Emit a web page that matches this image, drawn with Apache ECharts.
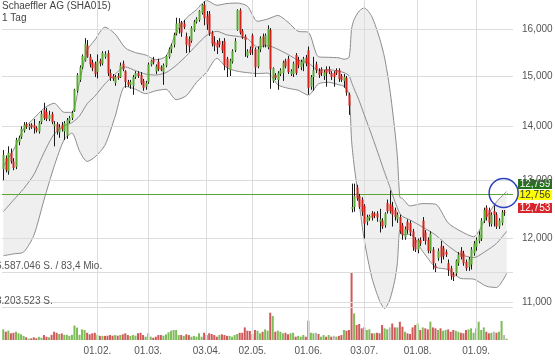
<!DOCTYPE html>
<html>
<head>
<meta charset="utf-8">
<script src="https://cdn.jsdelivr.net/npm/echarts@6/dist/echarts.min.js"></script>
<style>
  html, body { margin: 0; padding: 0; background: #fff; }
  #chart { width: 555px; height: 361px; }
</style>
</head>
<body>
<div id="chart"></div>
<script>
// Schaeffler AG, Tageskerzen mit Bollinger-Bändern und Umsatz
const title = 'Schaeffler AG (SHA015)';
const subtitle = '1 Tag';

// Handelstage: erster Tag, Anzahl (inkl. 2 leere Tage rechts), Feiertage
const firstDay = '2016-12-09';
const dayCount = 201;
const holidays = ['2016-12-26', '2017-04-14', '2017-04-17', '2017-05-01'];
const tickLabels = ['01.02.', '01.03.', '03.04.', '02.05.', '01.06.', '03.07.', '01.08.', '01.09.'];

const opens = [
  13.20, 13.40, 13.16, 13.50, 13.34, 13.24, 13.70, 13.80, 13.92, 14.04, 13.98, 14.03, 14.02, 13.97, 13.90,
  14.08, 14.32, 14.28, 14.14, 14.24, 14.00, 14.04, 13.88, 14.02, 13.90, 13.82, 14.10, 14.16, 14.30, 14.70,
  14.92, 15.18, 15.32, 15.64, 15.40, 15.28, 15.26, 15.08, 15.32, 15.26, 15.40, 15.48, 15.06, 15.00, 14.86,
  15.00, 14.98, 15.26, 15.10, 14.88, 14.82, 14.80, 14.98, 15.06, 15.02, 14.90, 14.78, 14.88, 15.24, 15.34,
  15.10, 15.30, 15.18, 15.08, 15.22, 15.40, 15.56, 15.66, 15.90, 16.02, 16.14, 16.12, 15.84, 15.78, 15.74,
  15.98, 16.16, 16.20, 16.36, 16.54, 16.28, 16.34, 15.92, 15.72, 15.70, 15.74, 15.66, 15.74, 15.36, 15.12,
  15.30, 15.54, 15.98, 16.42, 15.96, 15.84, 15.42, 15.56, 15.86, 15.56, 15.20, 15.56, 15.84, 15.66, 15.60,
  15.98, 14.90, 15.02, 14.92, 15.04, 15.06, 15.32, 15.36, 15.04, 15.04, 15.44, 15.34, 15.18, 15.26, 15.38,
  15.54, 14.78, 14.98, 15.24, 15.10, 15.14, 15.00, 15.14, 15.14, 15.06, 15.06, 15.12, 15.12, 15.00, 14.90,
  14.96, 14.62, 12.50, 12.53, 12.87, 12.72, 12.66, 12.55, 12.28, 12.34, 12.43, 12.42, 12.42, 12.28, 12.30,
  12.22, 12.60, 12.58, 12.54, 12.48, 12.32, 12.36, 12.22, 12.02, 12.28, 12.26, 12.12, 11.98, 11.82, 11.98,
  12.30, 12.10, 11.98, 11.80, 11.82, 11.56, 11.68, 11.88, 11.84, 11.78, 11.60, 11.52, 11.42, 11.44, 11.60,
  11.80, 11.76, 11.62, 11.54, 11.58, 11.76, 11.86, 11.96, 12.00, 12.30, 12.52, 12.48, 12.24, 12.46, 12.40,
  12.20, 12.26, 12.45, 12.745
];
const highs = [
  13.55, 13.45, 13.62, 13.58, 13.40, 13.78, 13.82, 14.00, 14.08, 14.08, 14.05, 14.06, 14.14, 14.00, 14.10,
  14.30, 14.46, 14.36, 14.30, 14.28, 14.10, 14.08, 14.04, 14.08, 14.10, 14.16, 14.20, 14.30, 14.74, 15.06,
  15.22, 15.45, 15.80, 15.76, 15.46, 15.34, 15.30, 15.45, 15.36, 15.52, 15.52, 15.54, 15.14, 15.04, 15.02,
  15.06, 15.28, 15.32, 15.12, 14.92, 14.92, 15.02, 15.10, 15.10, 15.08, 14.94, 14.90, 15.28, 15.34, 15.40,
  15.24, 15.36, 15.22, 15.26, 15.44, 15.60, 15.68, 15.92, 16.25, 16.24, 16.18, 16.20, 15.92, 15.84, 16.06,
  16.20, 16.26, 16.42, 16.56, 16.62, 16.40, 16.40, 15.96, 15.84, 15.76, 15.80, 15.74, 15.80, 15.40, 15.36,
  15.56, 15.80, 16.44, 16.46, 16.00, 15.88, 15.56, 15.62, 15.90, 15.60, 15.62, 15.84, 15.90, 15.90, 16.08,
  16.02, 15.18, 15.06, 15.10, 15.16, 15.32, 15.36, 15.42, 15.14, 15.30, 15.48, 15.40, 15.34, 15.40, 15.44,
  15.62, 15.02, 15.40, 15.30, 15.16, 15.18, 15.12, 15.20, 15.20, 15.10, 15.10, 15.16, 15.16, 15.04, 15.04,
  15.00, 14.66, 12.94, 12.94, 12.92, 12.76, 12.70, 12.58, 12.40, 12.40, 12.46, 12.45, 12.46, 12.50, 12.34,
  12.44, 12.66, 12.82, 12.62, 12.52, 12.44, 12.40, 12.26, 12.20, 12.32, 12.30, 12.16, 12.02, 12.00, 12.02,
  12.36, 12.14, 12.02, 12.12, 11.86, 11.60, 11.84, 11.96, 11.88, 11.82, 11.66, 11.56, 11.46, 11.66, 11.78,
  11.86, 11.80, 11.66, 11.70, 11.86, 11.96, 12.02, 12.12, 12.34, 12.52, 12.56, 12.52, 12.44, 12.56, 12.44,
  12.34, 12.48, 12.48, 12.762
];
const lows = [
  13.00, 13.14, 13.10, 13.30, 13.18, 13.20, 13.64, 13.76, 13.88, 13.95, 13.93, 13.95, 13.86, 13.88, 13.86,
  14.04, 14.12, 14.10, 14.10, 14.04, 13.62, 13.84, 13.78, 13.90, 13.74, 13.76, 14.06, 14.12, 14.28, 14.66,
  14.88, 15.15, 15.30, 15.38, 15.18, 15.10, 14.98, 14.95, 15.20, 15.22, 15.36, 15.00, 14.90, 14.90, 14.80,
  14.92, 14.96, 15.10, 14.76, 14.78, 14.74, 14.62, 14.94, 14.96, 14.82, 14.70, 14.72, 14.84, 15.20, 15.24,
  15.04, 15.10, 15.10, 14.82, 15.18, 15.36, 15.48, 15.60, 15.86, 15.90, 15.83, 16.00, 15.48, 15.50, 15.70,
  15.94, 16.12, 16.16, 16.32, 16.08, 15.98, 15.85, 15.62, 15.52, 15.46, 15.60, 15.48, 15.12, 14.98, 15.00,
  15.26, 15.50, 15.96, 15.88, 15.78, 15.40, 15.38, 15.44, 15.44, 14.98, 15.16, 15.50, 15.60, 15.60, 15.56,
  14.74, 14.86, 14.92, 14.72, 15.00, 14.90, 15.16, 15.04, 15.00, 14.98, 15.02, 15.16, 15.12, 15.10, 15.20,
  14.62, 14.72, 14.70, 15.06, 14.96, 15.00, 14.92, 14.78, 15.04, 14.92, 14.78, 15.02, 14.88, 14.88, 14.76,
  14.60, 14.22, 12.44, 12.45, 12.64, 12.50, 12.38, 12.00, 12.22, 12.30, 12.30, 12.34, 12.28, 12.10, 12.16,
  12.18, 12.42, 12.42, 12.20, 12.30, 12.26, 12.08, 11.98, 11.98, 12.08, 12.04, 11.80, 11.78, 11.76, 11.88,
  11.96, 11.90, 11.76, 11.76, 11.50, 11.46, 11.64, 11.60, 11.66, 11.70, 11.40, 11.34, 11.32, 11.40, 11.56,
  11.66, 11.56, 11.48, 11.48, 11.50, 11.72, 11.80, 11.92, 11.96, 12.26, 12.30, 12.20, 12.20, 12.20, 12.16,
  12.16, 12.22, 12.38, 12.74
];
const closes = [
  13.46, 13.18, 13.50, 13.34, 13.22, 13.74, 13.78, 13.95, 14.03, 13.99, 14.01, 13.98, 13.97, 13.92, 14.06,
  14.24, 14.16, 14.14, 14.22, 14.08, 14.04, 13.90, 13.98, 13.94, 14.06, 14.12, 14.16, 14.26, 14.72, 15.02,
  15.18, 15.42, 15.68, 15.40, 15.24, 15.16, 15.04, 15.30, 15.26, 15.48, 15.46, 15.06, 14.96, 14.94, 14.98,
  14.96, 15.22, 15.14, 14.88, 14.82, 14.88, 14.98, 15.06, 15.00, 14.86, 14.76, 14.86, 15.24, 15.32, 15.28,
  15.20, 15.14, 15.12, 15.22, 15.42, 15.56, 15.64, 15.87, 16.12, 16.13, 15.92, 16.04, 15.66, 15.62, 16.02,
  16.16, 16.22, 16.40, 16.54, 16.24, 16.10, 15.90, 15.68, 15.64, 15.60, 15.66, 15.54, 15.22, 15.18, 15.32,
  15.52, 15.74, 16.42, 15.92, 15.82, 15.76, 15.52, 15.48, 15.58, 15.18, 15.56, 15.80, 15.64, 15.86, 16.00,
  15.14, 15.16, 14.96, 15.06, 15.12, 15.28, 15.20, 15.08, 15.10, 15.26, 15.06, 15.22, 15.30, 15.36, 15.26,
  14.76, 14.98, 15.12, 15.12, 15.02, 15.06, 15.08, 15.06, 15.08, 14.98, 14.98, 15.06, 14.94, 14.92, 14.98,
  14.66, 14.40, 12.53, 12.72, 12.68, 12.53, 12.45, 12.25, 12.36, 12.38, 12.35, 12.38, 12.35, 12.32, 12.20,
  12.42, 12.46, 12.46, 12.40, 12.36, 12.40, 12.12, 12.06, 12.16, 12.14, 12.10, 11.86, 11.82, 11.97, 11.92,
  12.02, 11.96, 11.80, 12.08, 11.60, 11.52, 11.80, 11.70, 11.72, 11.74, 11.49, 11.40, 11.38, 11.64, 11.74,
  11.70, 11.60, 11.52, 11.66, 11.82, 11.92, 11.98, 12.06, 12.30, 12.48, 12.36, 12.26, 12.40, 12.40, 12.20,
  12.30, 12.44, 12.44, 12.756
];
// Umsatz in Mio. Stück
const volumes = [
  1.03, 0.80, 0.90, 0.65, 0.70, 0.80, 0.65, 0.55, 0.40, 0.26, 0.13, 0.16, 0.26, 0.16, 0.30,
  0.22, 0.48, 0.32, 0.26, 0.50, 0.80, 0.70, 0.58, 0.64, 0.50, 0.50, 0.40, 0.50, 1.40, 1.20,
  0.50, 1.03, 0.97, 0.70, 0.55, 0.65, 0.70, 0.50, 0.40, 0.40, 0.40, 0.42, 0.48, 0.42, 0.48,
  0.42, 0.48, 0.55, 0.65, 0.48, 0.40, 0.48, 0.42, 0.65, 0.70, 0.48, 0.32, 0.65, 0.32, 0.22,
  0.32, 0.48, 0.48, 0.42, 0.55, 0.75, 0.90, 0.97, 0.97, 0.48, 0.48, 0.40, 0.55, 0.48, 0.32,
  0.40, 0.32, 0.65, 0.32, 0.70, 0.48, 0.65, 0.58, 0.48, 0.32, 0.48, 0.55, 0.48, 0.40, 0.40,
  0.32, 0.48, 0.58, 0.70, 0.70, 1.22, 0.90, 0.87, 0.58, 0.97, 0.90, 0.65, 0.80, 1.03, 0.90,
  2.64, 2.32, 0.80, 0.90, 0.80, 0.65, 0.70, 0.55, 0.65, 0.70, 0.32, 0.40, 0.32, 0.48, 0.32,
  1.87, 0.70, 0.65, 0.70, 0.58, 0.32, 0.48, 0.32, 0.48, 0.32, 0.40, 0.32, 0.40, 0.48, 0.97,
  0.90, 0.97, 6.587046, 2.58, 1.45, 1.55, 1.13, 1.22, 0.97, 1.03, 0.65, 0.65, 0.70, 0.65, 1.45,
  1.13, 1.03, 1.22, 1.60, 1.22, 1.22, 1.77, 1.29, 0.80, 0.65, 0.58, 1.22, 1.45, 1.60, 0.97,
  1.22, 1.13, 1.03, 1.77, 1.22, 1.13, 0.97, 1.13, 0.90, 0.97, 1.03, 0.80, 0.97, 0.90, 0.80,
  0.70, 0.65, 0.97, 1.03, 1.13, 0.70, 1.13, 1.77, 0.97, 1.22, 0.80, 0.65, 0.70, 0.80, 0.70,
  0.80, 1.84, 0.48, 0.12
];

const bandIdx = [0, 4, 8, 12, 16, 20, 24, 27, 30, 33, 36, 40, 44, 48, 52, 56, 60, 64, 68, 72,
  76, 80, 84, 88, 92, 96, 100, 104, 108, 112, 116, 120, 124, 128, 132, 134, 136, 137, 138, 140,
  142, 145, 148, 150, 152, 154, 155, 156, 157, 160, 165, 170, 175, 180, 185, 190, 194, 198];
const bandUpper = [13.25, 13.55, 13.95, 14.15, 14.35, 14.45, 14.27, 14.27, 14.87, 15.54,
  15.76, 16.04, 15.89, 15.59, 15.49, 15.44, 15.34, 15.41, 15.92, 16.24,
  16.43, 16.64, 16.53, 16.57, 16.58, 16.51, 16.17, 16.22, 16.30, 16.15,
  15.95, 15.93, 15.40, 15.39, 15.38, 15.35, 15.39, 16.00, 16.21, 16.40,
  16.47, 16.27, 15.80, 15.38, 14.75, 13.93, 13.44, 12.70, 12.68, 12.55,
  12.59, 12.58, 12.26, 12.12, 12.03, 12.36, 12.62, 12.80];
const bandMid = [12.45, 12.65, 12.85, 13.10, 13.50, 13.85, 14.01, 14.07, 14.20, 14.44,
  14.59, 14.84, 15.04, 15.19, 15.11, 15.04, 15.02, 15.07, 15.22, 15.42,
  15.65, 15.86, 15.95, 15.87, 15.84, 15.79, 15.61, 15.64, 15.56, 15.45,
  15.33, 15.27, 15.12, 15.13, 15.10, 15.07, 15.01, 14.87, 14.74, 14.50,
  14.22, 13.82, 13.41, 13.14, 12.89, 12.63, 12.52, 12.42, 12.37, 12.31,
  12.19, 12.06, 11.88, 11.74, 11.69, 11.80, 11.92, 12.12];
const bandLower = [11.72, 11.75, 11.78, 12.05, 12.65, 13.25, 13.75, 13.87, 13.53, 13.34,
  13.42, 13.64, 14.19, 14.79, 14.73, 14.64, 14.70, 14.73, 14.52, 14.60,
  14.87, 15.08, 15.37, 15.17, 15.10, 15.07, 15.05, 15.06, 14.82, 14.75,
  14.71, 14.61, 14.84, 14.87, 14.82, 14.79, 14.63, 13.73, 13.27, 12.60,
  11.97, 11.37, 11.02, 10.90, 11.03, 11.33, 11.60, 12.14, 12.06, 12.07,
  11.79, 11.54, 11.50, 11.36, 11.35, 11.24, 11.22, 11.44];

const priceTicks = [11, 12, 13, 14, 15, 16];
const priceTickLabels = ['11,000', '12,000', '13,000', '14,000', '15,000', '16,000'];
const volTicks = [3.203523, 6.587046];
const volTickLabels = ['3.203.523 S.', '6.587.046 S. / 83,4 Mio.'];
const quoteAsk = 12.759, quoteLast = 12.756, quoteBid = 12.753;

const GREEN = '#58a92f', RED = '#d2221c';
const VOL_GREEN = '#7fbb58', VOL_RED = '#cf5a5a', VOL_GRAY = '#b8b8b8';
const GRID = '#dcdcdc', BAND_LINE = '#8c8c8c', BAND_FILL = '#efefef';
const FONT = '"Liberation Sans", Arial, sans-serif';

// Kategorien (Handelstage) erzeugen
function pad(n) { return n < 10 ? '0' + n : '' + n; }
const categories = [];
(function () {
  const d = new Date(firstDay + 'T00:00:00Z');
  while (categories.length < dayCount) {
    const iso = d.toISOString().slice(0, 10);
    const wd = d.getUTCDay();
    if (wd !== 0 && wd !== 6 && holidays.indexOf(iso) < 0) {
      categories.push(pad(d.getUTCDate()) + '.' + pad(d.getUTCMonth() + 1) + '.');
    }
    d.setUTCDate(d.getUTCDate() + 1);
  }
})();
const isTick = (idx, val) => tickLabels.indexOf(val) >= 0;

const candleData = closes.map((c, i) => [i, opens[i], c, lows[i], highs[i]]);
const lowerPts = bandIdx.map((k, j) => [k, bandLower[j]]);
const widthPts = bandIdx.map((k, j) => [k, +(bandUpper[j] - bandLower[j]).toFixed(4)]);
const midPts = bandIdx.map((k, j) => [k, bandMid[j]]);

const chart = echarts.init(document.getElementById('chart'));

const option = {
  animation: false,
  grid: [
    { left: 2, right: 42, top: 0, height: 340 },
    // Umsatzbereich etwas höher als das Maximum, damit die obere Linie sichtbar bleibt
    { left: 2, right: 42, top: 268, height: 72 }
  ],
  xAxis: [
    {
      type: 'category', gridIndex: 0, data: categories, boundaryGap: true, z: 3,
      axisLine: { show: false }, axisTick: { show: false, alignWithLabel: true }, axisLabel: { show: false },
      splitLine: { show: true, alignWithLabel: true, interval: isTick, lineStyle: { color: GRID, width: 1 } }
    },
    {
      type: 'category', gridIndex: 1, data: categories, boundaryGap: true,
      axisLine: { show: false }, axisTick: { show: false },
      axisLabel: { interval: isTick, margin: 6, color: '#555', fontSize: 10, fontFamily: FONT },
      splitLine: { show: false }
    }
  ],
  yAxis: [
    { type: 'log', logBase: 10, gridIndex: 0, min: 10.44, max: 16.65, show: false },
    { type: 'value', gridIndex: 1, min: 0, max: 6.587046 * 72 / 68, show: false }
  ],
  series: [
    {
      name: 'BB unten', type: 'line', xAxisIndex: 0, yAxisIndex: 0, data: lowerPts,
      stack: 'bb', symbol: 'none', smooth: 0.25, silent: true, z: 1,
      lineStyle: { color: BAND_LINE, width: 1 }
    },
    {
      name: 'BB Breite', type: 'line', xAxisIndex: 0, yAxisIndex: 0, data: widthPts,
      stack: 'bb', symbol: 'none', smooth: 0.25, silent: true, z: 1,
      lineStyle: { color: BAND_LINE, width: 1 },
      areaStyle: { color: BAND_FILL, opacity: 1 }
    },
    {
      name: 'BB Mitte', type: 'line', xAxisIndex: 0, yAxisIndex: 0, data: midPts,
      symbol: 'none', smooth: 0.25, silent: true, z: 3,
      lineStyle: { color: BAND_LINE, width: 1 },
      markLine: {
        silent: true, symbol: ['none', 'none'], animation: false,
        data: priceTicks.map((v, j) => ({
          yAxis: v,
          lineStyle: { color: GRID, width: 1, type: 'solid' },
          label: { show: true, position: 'end', distance: 9, formatter: priceTickLabels[j],
            color: '#555', fontSize: 10, fontFamily: FONT }
        })).concat([{
          yAxis: quoteLast,
          lineStyle: { color: '#5ea634', width: 1, type: 'solid' },
          label: { show: false }
        }])
      }
    },
    {
      name: 'Umsatz', type: 'bar', xAxisIndex: 1, yAxisIndex: 1, data: volumes, barWidth: 2,
      silent: true, z: 2,
      itemStyle: {
        color: function (p) {
          const i = p.dataIndex;
          if (i === 0) return VOL_GREEN;
          const d = closes[i] - closes[i - 1];
          return d > 0 ? VOL_GREEN : (d < 0 ? VOL_RED : VOL_GRAY);
        }
      },
      markLine: {
        silent: true, symbol: ['none', 'none'], animation: false,
        lineStyle: { color: GRID, width: 1, type: 'solid' },
        data: volTicks.map((v, j) => ({
          yAxis: v,
          label: { show: true, position: 'insideStartTop', distance: [-6, 1], formatter: volTickLabels[j],
            color: '#555', fontSize: 10, fontFamily: FONT }
        }))
      }
    },
    {
      name: 'Kurs', type: 'custom', xAxisIndex: 0, yAxisIndex: 0, data: candleData, z: 5,
      encode: { x: 0, y: [1, 2, 3, 4] },
      renderItem: function (params, api) {
        const i = api.value(0);
        const o = api.value(1), c = api.value(2);
        const pO = api.coord([i, o]), pC = api.coord([i, c]);
        const pL = api.coord([i, api.value(3)]), pH = api.coord([i, api.value(4)]);
        const x = Math.round(pO[0]);
        const top = Math.min(pO[1], pC[1]);
        const h = Math.max(Math.abs(pO[1] - pC[1]), 1);
        return {
          type: 'group',
          children: [
            { type: 'line', shape: { x1: x + 0.5, y1: pH[1], x2: x + 0.5, y2: pL[1] },
              style: { stroke: '#1a1a1a', lineWidth: 1 } },
            { type: 'rect', shape: { x: x - 0.5, y: top, width: 2, height: h },
              style: { fill: c >= o ? GREEN : RED } }
          ]
        };
      }
    }
  ]
};
chart.setOption(option);

// Kursboxen und Markierung am letzten Kurs
const fmt = v => v.toFixed(3).replace('.', ',');
const yLast = chart.convertToPixel({ yAxisIndex: 0 }, quoteLast);
const pLast = chart.convertToPixel({ gridIndex: 0 }, [closes.length - 1, quoteLast]);
function quoteBox(v, dy, bg, fg) {
  return {
    type: 'group', left: 518, top: Math.round(yLast + dy), z: 100,
    children: [
      { type: 'rect', shape: { x: 0, y: 0, width: 34, height: 10 }, style: { fill: bg } },
      { type: 'text', x: 17, y: 5, style: { text: fmt(v), fill: fg, font: '10px ' + FONT,
        textAlign: 'center', textVerticalAlign: 'middle' } }
    ]
  };
}
chart.setOption({
  graphic: [
    { type: 'text', left: 2, top: 1, style: { text: title, fill: '#444', font: '10px ' + FONT } },
    { type: 'text', left: 2, top: 13, style: { text: subtitle, fill: '#444', font: '10px ' + FONT } },
    quoteBox(quoteAsk, -15.5, '#25711c', '#fff'),
    quoteBox(quoteLast, -4.5, '#ffff00', '#333'),
    quoteBox(quoteBid, 8.5, '#d8252b', '#fff'),
    { type: 'circle', z: 100, shape: { cx: pLast[0] - 3, cy: yLast - 1, r: 14.5 },
      style: { fill: 'none', stroke: '#2c3fbf', lineWidth: 1.5 } }
  ]
});
</script>
</body>
</html>
